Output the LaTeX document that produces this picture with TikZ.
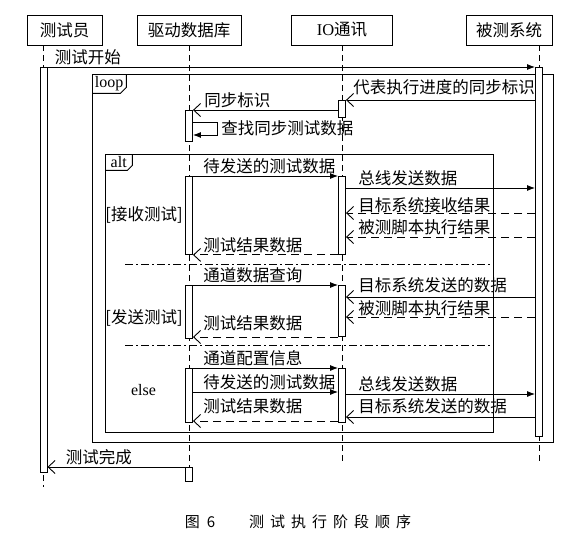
\documentclass[tikz,border=0pt]{standalone}
\usepackage{fontspec}
\setmainfont{Liberation Serif}
\newfontfamily\cjk{Noto Sans CJK SC}
\usetikzlibrary{arrows.meta}

\begin{document}
\begin{tikzpicture}[
  x=1pt, y=-1pt,
  head/.style={
    draw=black, fill=white, line width=0.9pt,
    minimum height=30pt, inner sep=0pt,
    font=\cjk\fontsize{16.5}{18}\selectfont
  },
  bar/.style={
    draw=black, fill=white, line width=0.9pt,
    minimum width=7pt, inner sep=0pt, anchor=north
  },
  life/.style={line width=0.8pt, dash pattern=on 6pt off 4pt},
  frame/.style={draw=black, line width=0.9pt, inner sep=0pt, anchor=north west},
  tag/.style={inner sep=0pt, anchor=north west, font=\fontsize{16}{18}\selectfont},
  lbl/.style={
    inner sep=2pt, anchor=south west, xshift=8pt,
    font=\cjk\fontsize{16.5}{18}\selectfont
  },
  guard/.style={inner sep=0pt, font=\cjk\fontsize{16.5}{18}\selectfont},
  sync/.style={-{Latex[length=8pt,width=6pt]}, line width=0.9pt},
  async/.style={-{Straight Barb[length=7pt,width=13pt]}, line width=0.9pt},
  reply/.style={async, dash pattern=on 8pt off 5pt},
  sep/.style={line width=0.9pt, dash pattern=on 8pt off 3pt on 2pt off 3pt},
]
  \useasboundingbox (0,0) rectangle (585,541);
  \fill[white] (0,0) rectangle (585,541);

  % lifeline heads
  \node[head, minimum width=75pt]  (tester) at (64.5,30) {测试员};
  \node[head, minimum width=104pt] (drv)    at (189,30)  {驱动数据库};
  \node[head, minimum width=101pt] (io)     at (342,30)  {{\rmfamily IO}通讯};
  \node[head, minimum width=86pt]  (sut)    at (509,30)  {被测系统};

  % lifelines
  \coordinate (testerEnd) at (43.5,487);
  \coordinate (drvEnd)    at (189,467);
  \coordinate (ioEnd)     at (342,463);
  \coordinate (sutEnd)    at (539,463);
  \draw[life] (tester.south -| testerEnd) -- (testerEnd);
  \draw[life] (drv.south) -- (drvEnd);
  \draw[life] (io.south) -- (ioEnd);
  \draw[life] (sut.south -| sutEnd) -- (sutEnd);

  % combined fragments
  \node[frame, minimum width=461pt, minimum height=368pt] (loop) at (92,74) {};
  \node[tag, minimum width=34pt, minimum height=19pt] (loopTag) at (loop.north west) {loop};
  \draw[line width=0.9pt] (loopTag.north east) -- ([yshift=6pt]loopTag.south east)
    -- ([xshift=-6pt]loopTag.south east) -- (loopTag.south west);

  \node[frame, minimum width=388pt, minimum height=278pt] (alt) at (105,154) {};
  \node[tag, minimum width=27pt, minimum height=16pt] (altTag) at (alt.north west) {alt};
  \draw[line width=0.9pt] (altTag.north east) -- ([yshift=5pt]altTag.south east)
    -- ([xshift=-5pt]altTag.south east) -- (altTag.south west);

  \coordinate (sep1) at (125,264);
  \coordinate (sep2) at (125,345);
  \draw[sep] (sep1) -- (sep1 -| alt.east);
  \draw[sep] (sep2) -- (sep2 -| alt.east);

  \node[guard] (gRecv) at (144,215) {[接收测试]};
  \node[guard] (gSend) at (144,318) {[发送测试]};
  \node[tag, anchor=center] (gElse) at (143.5,390) {else};

  % activation bars
  \node[bar, minimum height=405pt] (testerBar) at (43.5,67) {};
  \node[bar, minimum height=369pt] (sutBar)    at (539,67)  {};
  \node[bar, minimum height=17pt]  (ioSync)    at (342,100) {};
  \node[bar, minimum height=31pt]  (drvSync)   at (189,110) {};
  \node[bar, minimum height=78pt]  (drvA)      at (189,176) {};
  \node[bar, minimum height=78pt]  (ioA)       at (342,176) {};
  \node[bar, minimum height=53pt]  (drvB)      at (189,285) {};
  \node[bar, minimum height=51pt]  (ioB)       at (342,285) {};
  \node[bar, minimum height=54pt]  (drvC)      at (189,368) {};
  \node[bar, minimum height=54pt]  (ioC)       at (342,368) {};
  \node[bar, minimum height=14pt]  (drvLast)   at (189,467) {};

  % message levels
  \coordinate (yBus1)  at (0,188);
  \coordinate (yRecv)  at (0,213);
  \coordinate (yExec1) at (0,237);
  \coordinate (yData2) at (0,297);
  \coordinate (yExec2) at (0,317);
  \coordinate (yRes2)  at (0,337);
  \coordinate (ySend3) at (0,392);
  \coordinate (yBus3)  at (0,394);
  \coordinate (yData3) at (0,417);
  \coordinate (yRes3)  at (0,421);

  % messages
  \draw[sync] (testerBar.north east) -- node[lbl, pos=0, xshift=-3pt] (mStart) {测试开始}
    (testerBar.north east -| sutBar.west);
  \draw[async] (ioSync.north east -| sutBar.west) -- node[lbl, pos=1, xshift=-3pt, yshift=3pt] (mFlag)
    {代表执行进度的同步标识} (ioSync.north east);
  \draw[async] (drvSync.north east -| ioSync.west) -- node[lbl, pos=1, xshift=1pt] (mSync)
    {同步标识} (drvSync.north east);
  \draw[sync] ([yshift=-12pt]drvSync.north east) -- ++(24,0) -- ++(0,13)
    node[lbl, midway, anchor=west, xshift=-6pt] (mFind) {查找同步测试数据}
    -- ([yshift=-25pt]drvSync.north east);

  % alt: receive
  \draw[sync] (drvA.north east) -- node[lbl, pos=0] (mSend1) {待发送的测试数据}
    (drvA.north east -| ioA.west);
  \draw[sync] (ioA.east |- yBus1) -- node[lbl, pos=0, xshift=2pt] (mBus1) {总线发送数据}
    (sutBar.west |- yBus1);
  \draw[reply] (sutBar.west |- yRecv) -- node[lbl, pos=1, xshift=2pt, yshift=-2pt] (mRecv)
    {目标系统接收结果} (ioA.east |- yRecv);
  \draw[reply] (sutBar.west |- yExec1) -- node[lbl, pos=1, xshift=2pt] (mExec1)
    {被测脚本执行结果} (ioA.east |- yExec1);
  \draw[reply] (ioA.south west) -- node[lbl, pos=1] (mRes1) {测试结果数据}
    (ioA.south west -| drvA.east);

  % alt: send
  \draw[sync] (drvB.north east) -- node[lbl, pos=0] (mQuery) {通道数据查询}
    (drvB.north east -| ioB.west);
  \draw[async] (sutBar.west |- yData2) -- node[lbl, pos=1, xshift=2pt, yshift=2pt] (mData2)
    {目标系统发送的数据} (ioB.east |- yData2);
  \draw[reply] (sutBar.west |- yExec2) -- node[lbl, pos=1, xshift=2pt, yshift=-1pt] (mExec2)
    {被测脚本执行结果} (ioB.east |- yExec2);
  \draw[reply] (ioB.west |- yRes2) -- node[lbl, pos=1, yshift=4pt] (mRes2) {测试结果数据}
    (drvB.east |- yRes2);

  % alt: else
  \draw[sync] (drvC.north east) -- node[lbl, pos=0] (mConf) {通道配置信息}
    (drvC.north east -| ioC.west);
  \draw[sync] (drvC.east |- ySend3) -- node[lbl, pos=0] (mSend3) {待发送的测试数据}
    (ioC.west |- ySend3);
  \draw[sync] (ioC.east |- yBus3) -- node[lbl, pos=0, xshift=2pt] (mBus3) {总线发送数据}
    (sutBar.west |- yBus3);
  \draw[async] (sutBar.west |- yData3) -- node[lbl, pos=1, xshift=2pt, yshift=1pt] (mData3)
    {目标系统发送的数据} (ioC.east |- yData3);
  \draw[reply] (ioC.west |- yRes3) -- node[lbl, pos=1, yshift=5pt] (mRes3) {测试结果数据}
    (drvC.east |- yRes3);

  \draw[async] (drvLast.north west) -- node[lbl, pos=1, xshift=8pt] (mDone) {测试完成}
    (drvLast.north west -| testerBar.east);

  % caption
  \node[guard, font=\cjk\fontsize{15}{17}\selectfont] (caption) at (298,522)
    {图\hspace{7pt}6\hspace{34pt}测\hspace{6pt}试\hspace{6pt}执\hspace{6pt}行\hspace{6pt}阶\hspace{6pt}段\hspace{6pt}顺\hspace{6pt}序};
\end{tikzpicture}
\end{document}
